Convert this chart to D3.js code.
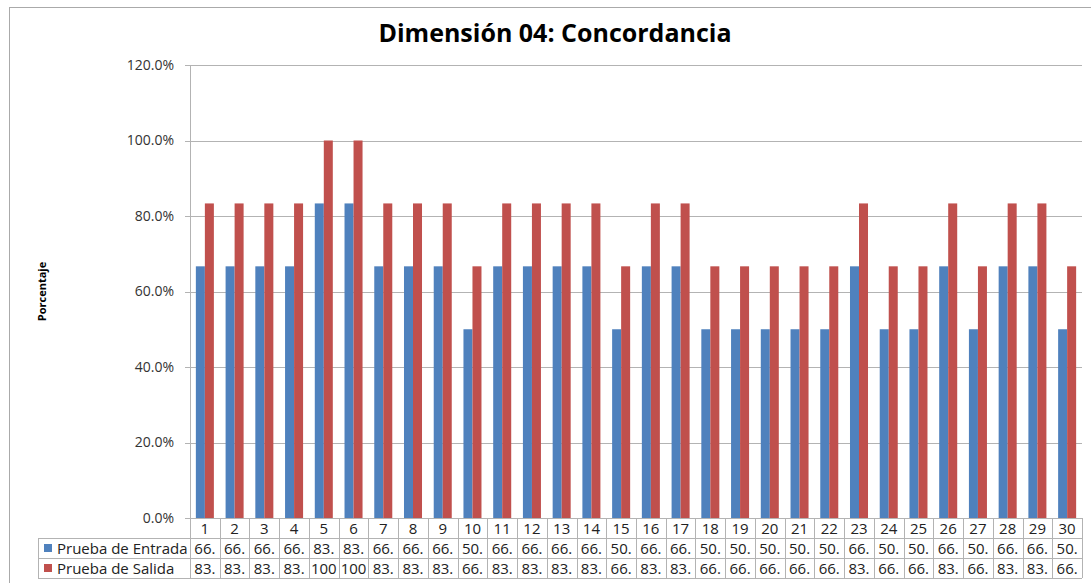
<!DOCTYPE html>
<html><head><meta charset="utf-8">
<script src="https://cdn.jsdelivr.net/npm/d3@7"></script>
<style>
html,body{margin:0;padding:0;background:#fff;}
svg{display:block;}
</style></head>
<body>
<svg id="c" width="1091" height="583"></svg>
<script>
const categories = d3.range(1, 31).map(String);
const entrada = [66.67,66.67,66.67,66.67,83.33,83.33,66.67,66.67,66.67,50,66.67,66.67,66.67,66.67,50,66.67,66.67,50,50,50,50,50,66.67,50,50,66.67,50,66.67,66.67,50];
const salida  = [83.33,83.33,83.33,83.33,100,100,83.33,83.33,83.33,66.67,83.33,83.33,83.33,83.33,66.67,83.33,83.33,66.67,66.67,66.67,66.67,66.67,83.33,66.67,66.67,83.33,66.67,83.33,83.33,66.67];
const seriesNames = ["Prueba de Entrada", "Prueba de Salida"];
const seriesColors = ["#4F81BD", "#C0504D"];
const yTicks = [0, 20, 40, 60, 80, 100, 120];
const title = "Dimensión 04: Concordancia";
const yLabel = "Porcentaje";

const svg = d3.select("#c");
const font = "'Open Sans', 'Noto Sans', sans-serif";
const L = 190, R = 1082, T = 65, B = 518;
const rowH = 20, tableLeft = 38;

// outer border
svg.append("rect").attr("x", 9.5).attr("y", 7.5).attr("width", 1200).attr("height", 700)
  .attr("fill", "none").attr("stroke", "#aaa").attr("stroke-width", 1);

const x = d3.scaleBand().domain(categories).range([L, R]).paddingInner(0).paddingOuter(0);
const x1 = d3.scaleBand().domain([0, 1]).range([0, x.bandwidth()]).paddingInner(0).paddingOuter(0.65);
const y = d3.scaleLinear().domain([0, 120]).range([B, T]);

// gridlines
const grid = svg.append("g");
grid.selectAll("line").data(yTicks).join("line")
  .attr("x1", L - 5).attr("x2", R)
  .attr("y1", d => Math.round(y(d)) + 0.5).attr("y2", d => Math.round(y(d)) + 0.5)
  .attr("stroke", "#b3b3b3").attr("stroke-width", 1);

// y axis labels
const yAxis = d3.axisLeft(y).tickValues(yTicks).tickSize(0).tickPadding(16)
  .tickFormat(d => d.toFixed(1) + "%");
const ya = svg.append("g").attr("transform", `translate(${L},0)`).call(yAxis);
ya.select(".domain").remove();
ya.selectAll("text").attr("font-family", font).attr("font-size", 14).attr("fill", "#333");

// left axis line
svg.append("line").attr("x1", L + 0.5).attr("x2", L + 0.5).attr("y1", T).attr("y2", B)
  .attr("stroke", "#b3b3b3");

// bars
const series = [entrada, salida];
series.forEach((vals, si) => {
  svg.append("g").selectAll("rect").data(vals).join("rect")
    .attr("x", (d, i) => x(categories[i]) + x1(si))
    .attr("width", x1.bandwidth())
    .attr("y", d => y(d))
    .attr("height", d => y(0) - y(d))
    .attr("fill", seriesColors[si]);
});

// data table
const tbl = svg.append("g");
const gridColor = "#b3b3b3";
tbl.append("line").attr("x1", L).attr("x2", R).attr("y1", B + 0.5).attr("y2", B + 0.5).attr("stroke", gridColor);
[1, 2, 3].forEach(r => {
  tbl.append("line").attr("x1", tableLeft).attr("x2", R)
    .attr("y1", B + r * rowH + 0.5).attr("y2", B + r * rowH + 0.5).attr("stroke", gridColor);
});
tbl.append("line").attr("x1", tableLeft + 0.5).attr("x2", tableLeft + 0.5)
  .attr("y1", B + rowH).attr("y2", B + 3 * rowH).attr("stroke", gridColor);
const bounds = categories.map(c => x(c)).concat([R]);
tbl.selectAll(".vl").data(bounds).join("line")
  .attr("x1", d => Math.round(d) + 0.5).attr("x2", d => Math.round(d) + 0.5)
  .attr("y1", B).attr("y2", B + 3 * rowH).attr("stroke", gridColor);

const tfs = 15;
tbl.selectAll(".cat").data(categories).join("text")
  .attr("x", d => x(d) + x.bandwidth() / 2).attr("y", B + rowH / 2 + 5.5)
  .attr("text-anchor", "middle").attr("font-family", font).attr("font-size", tfs).attr("fill", "#222")
  .text(d => d);

series.forEach((vals, si) => {
  const ry = B + (si + 1) * rowH;
  tbl.append("rect").attr("x", tableLeft + 6).attr("y", ry + 6).attr("width", 8).attr("height", 8)
    .attr("fill", seriesColors[si]);
  tbl.append("text").attr("x", tableLeft + 19).attr("y", ry + rowH / 2 + 5.5)
    .attr("font-family", font).attr("font-size", tfs).attr("fill", "#222").text(seriesNames[si]);
  tbl.selectAll(".v" + si).data(vals).join("text")
    .attr("x", (d, i) => x(categories[i]) + x.bandwidth() / 2).attr("y", ry + rowH / 2 + 5.5)
    .attr("text-anchor", "middle").attr("font-family", font).attr("font-size", tfs).attr("fill", "#222")
    .text(d => d.toFixed(1).slice(0, 3));
});

// title
svg.append("text").attr("x", 555).attr("y", 42).attr("text-anchor", "middle")
  .attr("font-family", font).attr("font-weight", "bold").attr("font-size", 25).attr("fill", "#000")
  .text(title);

// y label
svg.append("text").attr("transform", `translate(46,${(T + B) / 2}) rotate(-90)`)
  .attr("text-anchor", "middle").attr("font-family", "'Liberation Sans Narrow','Open Sans',sans-serif")
  .attr("font-weight", "bold").attr("font-size", 11).attr("fill", "#000")
  .text(yLabel);
</script>
</body></html>
